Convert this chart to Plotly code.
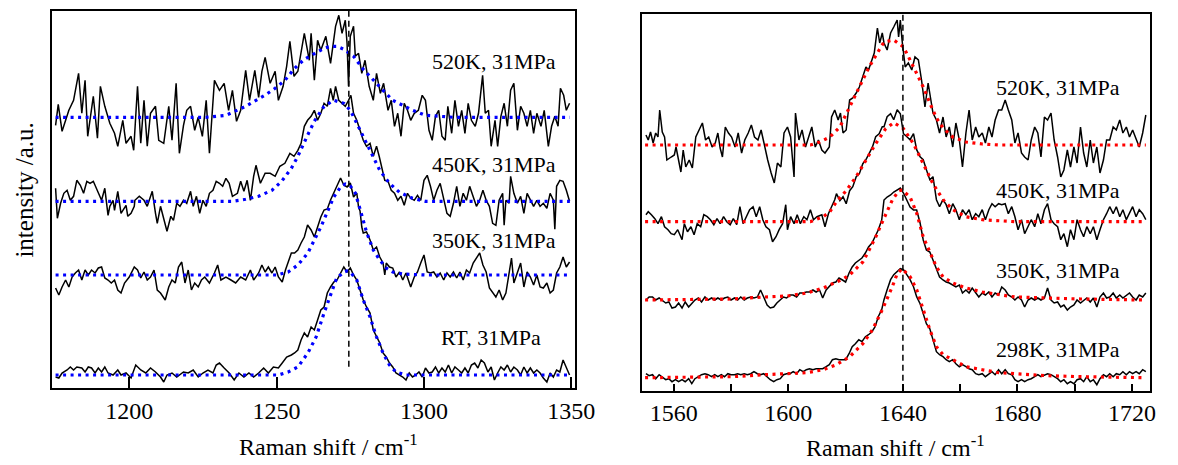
import plotly.graph_objects as go

# ---------------- LEFT PANEL (1174-1351 cm-1) ----------------
# measured spectra: (Raman shift, intensity above own baseline, a.u.)
L520 = [(1175.0,-8),(1175.9,13),(1177.2,-14),(1179.5,7),(1181.1,17),(1182.8,44),(1183.9,4),(1185.0,37),(1185.9,-19),(1187.8,21),
        (1189.2,-21),(1190.2,31),(1191.7,11),(1193.4,-6),(1195.0,-16),(1196.1,-29),(1197.8,-3),(1198.9,-26),(1200.6,-19),(1201.5,-33),
        (1202.8,31),(1203.9,-26),(1205.0,17),(1206.1,-29),(1207.2,4),(1208.9,11),(1210.0,-23),(1211.7,-26),(1213.4,11),(1214.5,-23),
        (1215.9,34),(1217.0,-36),(1218.4,-8),(1219.5,7),(1220.8,11),(1222.2,-13),(1223.4,0),(1224.8,-19),(1226.1,17),(1227.2,-36),
        (1228.9,37),(1230.6,27),(1232.2,34),(1233.7,7),(1235.0,27),(1236.4,-4),(1237.8,7),(1239.5,47),(1240.8,17),(1242.6,47),
        (1243.9,20),(1245.0,46),(1246.1,60),(1247.8,34),(1249.5,46),(1250.6,17),(1252.2,31),(1253.4,51),(1254.5,76),(1255.9,41),
        (1257.2,46),(1259.4,84),(1261.1,57),(1261.7,84),(1262.8,37),(1263.9,77),(1265.0,67),(1266.7,81),(1268.3,54),(1270.0,91),
        (1271.1,102),(1272.2,84),(1273.3,97),(1273.9,74),(1274.4,31),(1275.0,81),(1276.1,91),(1276.7,61),(1277.8,64),(1278.9,44),
        (1280.0,57),(1281.4,31),(1282.8,17),(1283.9,44),(1285.2,24),(1286.3,34),(1287.8,7),(1288.9,17),(1290.0,-9),(1291.1,4),
        (1292.2,-19),(1293.3,14),(1294.4,7),(1295.5,-3),(1296.7,4),(1298.1,7),(1299.4,22),(1300.5,17),(1301.7,-13),(1302.8,-23),
        (1303.9,1),(1305.0,7),(1306.1,-19),(1307.2,-23),(1308.1,11),(1309.4,-16),(1310.5,17),(1311.7,-9),(1312.8,7),(1313.9,-16),
        (1315.0,14),(1316.1,-3),(1317.4,-9),(1318.5,4),(1319.9,42),(1320.8,4),(1321.9,7),(1322.8,-29),(1324.1,-3),(1325.0,-29),
        (1326.1,1),(1327.2,14),(1328.3,-9),(1329.4,27),(1330.5,34),(1331.7,-13),(1332.8,11),(1333.9,4),(1335.0,-9),(1336.1,7),
        (1337.2,-16),(1338.3,4),(1339.7,-9),(1340.8,7),(1342.2,-29),(1343.3,-9),(1344.4,1),(1345.5,-9),(1346.3,29),(1347.4,22),
        (1348.3,7),(1349.4,14)]

L450 = [(1175.0,13),(1175.6,-17),(1176.7,-2),(1177.8,8),(1178.9,11),(1180.0,1),(1181.1,5),(1182.2,21),(1183.4,16),(1184.5,8),
        (1185.6,20),(1186.7,18),(1187.8,20),(1189.2,10),(1190.6,1),(1191.7,13),(1192.8,-14),(1193.4,-5),(1194.5,1),(1195.0,-9),
        (1196.1,10),(1197.2,-12),(1198.9,-4),(1199.5,-15),(1200.6,-12),(1201.7,-5),(1201.9,1),(1203.4,5),(1205.0,1),(1206.1,-5),
        (1207.8,10),(1208.9,-12),(1209.5,-22),(1210.6,-5),(1211.7,-19),(1212.8,-30),(1214.1,-15),(1215.0,-19),(1216.1,-2),(1217.2,-5),
        (1218.4,1),(1219.5,-2),(1220.8,10),(1221.7,-5),(1222.8,5),(1223.9,-12),(1225.0,1),(1226.1,-5),(1227.2,8),(1228.4,11),
        (1229.5,20),(1230.6,18),(1231.7,15),(1232.8,23),(1233.9,18),(1235.0,5),(1236.7,8),(1237.8,20),(1238.9,10),(1240.0,21),
        (1241.1,1),(1242.2,25),(1243.0,36),(1244.5,18),(1246.1,28),(1247.8,28),(1249.5,25),(1251.1,35),(1252.8,38),(1254.5,48),
        (1255.9,45),(1257.2,51),(1258.3,58),(1259.4,75),(1260.5,81),(1261.7,85),(1262.8,91),(1263.9,81),(1265.0,88),(1266.1,98),
        (1267.2,95),(1268.3,113),(1269.2,101),(1270.0,115),(1271.1,101),(1272.2,98),(1273.3,95),(1274.4,101),(1275.2,106),(1276.1,88),
        (1277.2,81),(1278.3,71),(1279.4,61),(1280.5,55),(1281.7,58),(1282.8,45),(1283.9,55),(1284.8,45),(1285.5,35),(1286.7,21),
        (1287.8,20),(1288.9,11),(1290.0,8),(1291.1,1),(1292.2,5),(1293.3,-4),(1294.4,8),(1295.5,3),(1296.7,1),(1297.8,6),
        (1298.9,1),(1300.0,21),(1301.1,26),(1302.2,15),(1303.3,1),(1304.4,11),(1305.5,18),(1306.7,1),(1307.8,-12),(1308.9,-15),
        (1310.0,-2),(1311.1,15),(1312.2,-5),(1313.3,8),(1314.4,1),(1315.5,15),(1316.7,5),(1317.8,-5),(1318.9,1),(1320.0,11),
        (1321.1,1),(1322.2,-5),(1323.3,-22),(1324.4,-24),(1325.5,1),(1326.7,8),(1327.2,-24),(1327.8,1),(1328.9,-2),(1329.4,25),
        (1330.5,8),(1331.7,-2),(1332.8,5),(1333.9,-12),(1335.0,8),(1336.1,1),(1337.2,-5),(1338.3,1),(1339.4,-5),(1340.5,-2),
        (1341.7,-7),(1342.8,8),(1343.9,1),(1344.4,-28),(1345.0,15),(1346.1,21),(1347.2,20),(1348.3,11),(1349.4,0)]

L350 = [(1175.0,-13),(1176.1,-20),(1177.2,-12),(1178.4,-5),(1179.5,-12),(1180.6,-2),(1181.7,2),(1182.8,5),(1183.9,-5),(1185.0,5),
        (1186.1,0),(1187.2,5),(1188.4,2),(1189.5,7),(1190.6,8),(1191.7,-3),(1192.8,-5),(1193.9,-8),(1195.0,-5),(1196.1,-15),
        (1197.2,-18),(1198.4,-8),(1200.0,-2),(1201.7,8),(1202.8,5),(1203.9,-3),(1205.0,3),(1206.1,-5),(1207.2,-2),(1208.4,5),
        (1209.5,-15),(1210.6,-18),(1212.2,-25),(1213.4,-12),(1214.5,-5),(1215.6,-8),(1216.7,8),(1217.8,13),(1218.9,-8),(1220.0,5),
        (1221.1,-15),(1222.2,-8),(1223.4,-12),(1224.5,-5),(1225.6,-2),(1227.2,-8),(1228.9,2),(1230.0,10),(1231.1,-5),(1232.8,-2),
        (1234.5,-5),(1236.1,-8),(1237.8,-2),(1239.5,-5),(1241.1,5),(1242.2,-5),(1243.9,2),(1245.0,10),(1246.1,3),(1247.2,8),
        (1248.4,2),(1249.5,8),(1250.6,-2),(1251.9,-7),(1253.0,5),(1253.9,12),(1255.0,22),(1256.1,22),(1257.2,25),(1258.3,32),
        (1259.4,38),(1260.5,50),(1261.7,45),(1262.8,38),(1263.9,48),(1265.0,58),(1266.1,65),(1267.2,66),(1268.3,75),(1269.4,82),
        (1270.5,88),(1271.7,97),(1272.8,90),(1273.9,88),(1275.0,92),(1276.1,78),(1277.2,82),(1277.8,68),(1278.3,64),(1278.9,48),
        (1279.4,42),(1280.5,43),(1281.7,35),(1282.8,25),(1283.9,28),(1285.0,18),(1286.1,12),(1286.7,0),(1287.2,12),(1288.3,8),
        (1289.4,7),(1290.5,-2),(1291.7,3),(1292.8,-5),(1293.9,2),(1295.5,-12),(1296.7,-2),(1297.8,3),(1298.9,12),(1300.0,20),
        (1301.1,3),(1302.2,2),(1303.3,3),(1304.4,-2),(1305.5,2),(1306.7,-5),(1307.8,2),(1308.9,-2),(1310.0,3),(1311.1,-3),
        (1312.2,3),(1313.3,-5),(1314.4,5),(1315.5,2),(1316.7,12),(1317.8,17),(1318.9,22),(1320.0,10),(1321.1,3),(1322.2,-13),
        (1323.3,-18),(1324.4,-22),(1325.5,-15),(1326.7,-25),(1327.8,-18),(1328.9,5),(1329.7,17),(1330.5,-8),(1331.7,2),(1332.8,12),
        (1333.9,-12),(1335.0,3),(1336.1,-2),(1337.2,-10),(1338.3,0),(1339.4,-12),(1340.5,-13),(1341.7,-8),(1342.8,-18),(1343.9,-15),
        (1345.0,2),(1346.1,8),(1347.2,18),(1348.3,8),(1349.4,13)]

LRT = [(1175.0,-2),(1176.1,-3),(1177.2,2),(1178.9,5),(1180.0,8),(1181.1,5),(1182.2,8),(1183.9,7),(1185.0,3),(1186.1,8),
       (1187.2,7),(1188.4,2),(1189.5,7),(1190.6,3),(1191.7,8),(1192.8,2),(1194.5,0),(1196.1,5),(1197.2,0),(1198.9,2),
       (1200.6,-3),(1202.2,10),(1203.9,5),(1205.6,2),(1207.2,7),(1208.9,3),(1210.6,-2),(1211.7,-7),(1212.8,0),(1214.5,2),
       (1216.1,-2),(1218.4,3),(1220.0,2),(1221.7,5),(1223.4,-2),(1225.0,2),(1226.7,5),(1228.4,2),(1229.5,10),(1230.6,12),
       (1232.2,7),(1233.9,2),(1235.6,-5),(1237.2,2),(1238.9,-2),(1240.6,2),(1242.2,-2),(1243.9,2),(1245.6,7),(1247.2,2),
       (1248.9,8),(1250.6,7),(1251.9,12),(1253.4,18),(1255.0,20),(1256.1,22),(1257.2,25),(1258.3,35),(1259.4,42),(1260.5,38),
       (1261.7,48),(1262.8,45),(1263.9,55),(1265.0,65),(1266.1,68),(1267.2,82),(1268.3,88),(1269.4,93),(1270.5,95),(1271.7,102),
       (1272.8,108),(1273.9,103),(1275.0,107),(1276.1,100),(1277.2,95),(1278.3,85),(1279.4,75),(1280.5,68),(1281.7,62),(1282.8,45),
       (1283.9,38),(1285.0,32),(1286.1,22),(1287.2,18),(1288.3,12),(1289.4,8),(1290.5,2),(1291.7,0),(1292.8,-2),(1293.9,-5),
       (1295.0,2),(1296.1,-2),(1297.2,0),(1298.3,3),(1299.4,-2),(1300.5,7),(1301.7,2),(1302.8,3),(1303.9,8),(1305.0,2),
       (1306.1,7),(1307.2,3),(1308.3,10),(1309.4,2),(1310.5,8),(1311.7,5),(1312.8,2),(1313.9,7),(1315.0,2),(1316.1,10),
       (1317.2,12),(1318.3,7),(1319.4,15),(1320.5,12),(1321.7,3),(1322.8,8),(1323.9,-5),(1325.0,2),(1326.1,8),(1327.2,5),
       (1328.3,10),(1329.4,3),(1330.5,8),(1331.7,5),(1332.8,0),(1333.9,8),(1335.0,2),(1336.1,7),(1337.2,2),(1338.3,5),
       (1339.4,2),(1340.5,-3),(1341.7,-7),(1342.8,2),(1343.9,-2),(1345.0,5),(1346.1,3),(1347.2,15),(1348.3,8),(1349.4,0)]

# fitted profiles (left panel)
F520L = [(1175.0,0),(1226.0,0),(1232.8,2),(1236.0,6),(1239.5,11),(1243.0,17),(1246.0,22),(1249.5,29),(1252.8,37),(1256.1,49),
         (1259.4,58),(1263.0,64),(1266.1,69),(1268.3,71),(1270.5,71),(1272.8,68),(1276.1,61),(1279.4,48),(1282.8,37),(1286.1,27),
         (1289.4,17),(1292.8,12),(1296.1,7),(1300.5,2),(1305.0,1),(1310.0,0),(1349.5,0)]
F450L = [(1175.0,0),(1235.0,0),(1239.5,2),(1243.9,5),(1248.4,11),(1251.7,20),(1255.0,33),(1257.2,45),(1260.5,66),(1262.8,80),
         (1266.1,95),(1269.4,101),(1272.8,98),(1275.0,91),(1277.2,78),(1279.4,65),(1281.7,51),(1285.0,31),(1288.3,18),(1291.7,9),
         (1296.1,3),(1300.5,0),(1349.5,0)]
F350L = [(1175.0,0),(1250.0,0),(1253.9,3),(1257.2,10),(1260.6,22),(1262.8,35),(1265.0,48),(1267.2,63),(1269.4,78),(1271.7,88),
         (1273.3,91),(1275.0,89),(1276.7,82),(1278.3,66),(1280.5,43),(1282.8,25),(1285.0,15),(1287.2,7),(1289.4,3),(1292.8,1),
         (1300.5,0),(1349.5,0)]
FRTL = [(1175.0,0),(1250.6,0),(1253.9,3),(1257.2,8),(1260.6,22),(1263.4,38),(1266.1,62),(1268.9,85),(1270.5,98),(1271.7,100),
        (1272.8,103),(1273.9,104),(1275.0,103),(1277.2,95),(1279.4,75),(1281.7,58),(1283.9,38),(1286.1,22),(1288.3,10),(1290.5,3),
        (1293.9,0),(1349.5,0)]

left_offsets = [270.4, 186.4, 112.7, 12.7]          # 520K, 450K, 350K, RT
left_labels = ["520K, 31MPa", "450K, 31MPa", "350K, 31MPa", "RT, 31MPa"]
left_ticks = [1200, 1250, 1300, 1350]
left_ref = 1274.5

# ---------------- RIGHT PANEL (1549-1726 cm-1) ----------------
R_GRID_A = [1550.3,1551.4,1552.6,1553.7,1554.9,1556.0,1557.2,1558.3,1559.4,1560.6,1561.7,1562.9,1564.0,1565.2,1566.3,1567.4,
            1568.6,1569.7,1570.9,1572.0,1573.2,1574.3,1575.4,1576.6,1577.7,1578.9,1580.0,1581.2,1582.3,1583.4,1584.6,1585.7,
            1586.9,1588.0,1589.2,1590.3,1591.4,1592.6,1593.7,1594.9,1596.0,1597.2,1598.3,1599.4,1600.6,1601.7,1602.9,1604.0,
            1605.2,1606.3,1607.4,1608.6,1609.7,1610.9,1612.0,1613.2,1614.3,1615.4,1616.6,1617.7,1618.9,1620.0,1621.2,1622.3,
            1623.4,1624.6,1625.7,1626.9,1628.0,1629.2,1630.3,1631.4,1632.6]
R_GRID_B = [1633.4,1634.5,1635.7,1636.8,1638.0,1639.1,1640.2,1641.4,1642.5,1643.7,1644.8,1646.0,1647.1,1648.2,1649.4,1650.5,
            1651.7,1652.8,1654.0,1655.1,1656.2,1657.4,1658.5,1659.7,1660.8,1662.0,1663.1,1664.2,1665.4,1666.5,1667.7,1668.8,
            1670.0,1671.1,1672.2,1673.4,1674.5,1675.7,1676.8,1678.0,1679.1,1680.2,1681.4,1682.5,1683.7,1684.8,1686.0,1687.1,
            1688.2,1689.4,1690.5,1691.7,1692.8,1694.0,1695.1,1696.2,1697.4,1698.5,1699.7,1700.8,1702.0,1703.1,1704.2,1705.4,
            1706.5,1707.7,1708.8,1710.0,1711.1,1712.2,1713.4,1714.5,1715.7,1716.8,1718.0,1719.1,1720.2,1721.4,1722.5,1723.7,1724.8]

R298_A = [4,2,3,-1,3,1,-2,-1,-4,-2,-4,-2,-4,-1,-6,-1,1,3,4,3,1,3,1,3,1,4,3,3,4,3,4,3,4,6,4,3,4,1,-2,-4,-2,-1,3,4,4,6,4,8,6,8,
          9,8,9,9,9,11,13,18,19,18,18,18,24,31,34,38,36,41,43,46,51,61,68]
R298_B = [78,88,98,103,106,109,108,103,98,91,81,74,64,54,49,38,26,23,21,18,16,18,14,11,13,11,9,8,4,3,4,1,4,6,3,8,4,8,4,3,
          -2,-4,-2,-4,-2,-1,1,3,1,3,4,3,1,-1,-4,-2,-6,-4,-6,-2,-1,-4,1,-4,-2,-7,-1,3,1,4,1,4,3,6,3,6,4,6,4,8,6]
R350_A = [0,3,3,0,2,0,-3,-2,-8,-7,-3,-8,-2,-7,-3,0,2,-2,3,0,2,0,2,0,2,3,0,2,0,3,0,2,3,2,3,10,3,-5,-8,-7,-3,0,3,2,5,5,3,7,7,8,
          8,10,8,10,2,10,13,17,18,22,20,18,27,33,37,40,42,47,53,57,63,70,80]
R350_B = [100,103,105,108,110,112,107,100,93,90,90,77,60,50,48,40,30,23,20,18,17,15,13,15,7,10,7,12,7,3,7,5,8,3,7,5,13,10,5,3,
          0,3,0,-7,0,2,0,2,0,2,12,0,-3,-2,-7,-5,-10,-7,-5,0,-3,0,2,-2,2,-7,3,7,2,3,7,2,5,2,5,7,3,0,5,3,7]

R450 = [(1550.3,7),(1551.1,10),(1552.2,7),(1553.4,3),(1554.5,-2),(1555.7,5),(1556.8,-5),(1558.0,-8),(1559.1,-12),(1560.2,-13),
        (1561.4,-8),(1562.9,-18),(1563.7,-2),(1564.8,-10),(1566.0,-5),(1567.1,-13),(1568.2,-2),(1569.4,-5),(1570.5,7),(1571.7,5),
        (1572.8,2),(1574.0,-3),(1575.1,3),(1576.2,-2),(1577.4,5),(1578.5,0),(1579.7,-3),(1580.8,3),(1582.0,-3),(1583.1,15),
        (1584.2,-2),(1585.4,5),(1586.5,12),(1587.7,15),(1588.8,5),(1590.0,15),(1591.1,2),(1592.2,-5),(1593.4,-8),(1594.5,-20),
        (1595.7,-15),(1596.8,-8),(1598.0,-2),(1599.1,17),(1599.7,-8),(1600.8,5),(1602.0,-2),(1603.1,7),(1604.2,-2),(1605.4,5),
        (1606.5,2),(1607.7,12),(1608.8,2),(1610.0,5),(1611.7,7),(1612.8,-5),(1614.0,8),(1615.1,15),(1616.2,22),(1616.8,28),
        (1618.0,21),(1619.1,25),(1620.2,18),(1621.4,31),(1622.5,35),(1623.7,45),(1624.8,48),(1626.0,58),(1627.1,62),(1628.2,68),
        (1629.4,75),(1630.5,85),(1631.7,88),(1632.8,95),(1633.4,95),(1634.5,105),(1635.7,108),(1636.8,102),(1638.0,112),(1639.1,108),
        (1639.7,98),(1640.2,88),(1641.4,85),(1642.5,82),(1643.7,88),(1644.8,72),(1646.0,65),(1647.1,62),(1648.2,52),(1649.4,42),
        (1650.5,45),(1651.7,22),(1652.8,15),(1654.0,22),(1655.1,17),(1656.2,8),(1657.4,18),(1658.5,12),(1659.7,2),(1660.8,12),
        (1662.0,7),(1663.1,12),(1664.2,2),(1665.4,8),(1666.5,5),(1667.7,12),(1668.8,2),(1670.0,12),(1671.1,18),(1672.2,15),
        (1673.4,18),(1674.5,17),(1675.7,18),(1676.8,8),(1678.0,15),(1679.1,5),(1680.2,-8),(1681.4,2),(1682.5,-12),(1683.7,-5),
        (1684.8,2),(1686.0,-5),(1687.1,8),(1688.2,-2),(1689.4,12),(1690.5,18),(1691.7,2),(1692.8,-2),(1694.0,-5),(1695.1,-18),
        (1696.2,-12),(1697.4,-25),(1698.5,-8),(1699.7,-18),(1700.8,2),(1702.0,-8),(1703.1,-15),(1704.2,-5),(1705.4,-12),(1706.5,-5),
        (1707.7,-18),(1708.8,-8),(1710.0,2),(1711.1,8),(1712.2,15),(1713.4,8),(1714.5,15),(1715.7,5),(1716.8,12),(1718.0,2),
        (1719.1,8),(1720.2,15),(1721.4,5),(1722.5,12),(1723.7,8),(1724.8,2)]

R520 = [(1550.3,10),(1551.1,5),(1551.9,13),(1552.8,2),(1553.7,12),(1554.5,8),(1555.1,35),(1556.0,13),(1556.8,8),(1557.6,-15),
        (1559.1,-12),(1560.2,-10),(1560.8,-2),(1561.7,-15),(1562.5,-27),(1563.3,-5),(1564.2,-22),(1565.4,-15),(1566.5,-23),(1567.7,8),
        (1568.8,15),(1570.0,22),(1571.1,5),(1572.2,8),(1573.4,-2),(1574.5,2),(1575.4,12),(1576.2,-3),(1577.0,-12),(1578.0,18),
        (1579.1,12),(1580.2,8),(1581.4,-2),(1582.5,12),(1583.7,-8),(1584.8,5),(1586.0,12),(1587.1,20),(1588.2,8),(1589.4,5),
        (1590.5,15),(1591.7,-2),(1592.8,-15),(1594.0,-28),(1595.1,-38),(1596.2,-18),(1597.4,-22),(1598.5,12),(1599.7,18),(1600.8,8),
        (1602.0,-32),(1602.5,32),(1603.7,5),(1604.8,15),(1606.0,-2),(1607.1,8),(1608.2,18),(1609.4,-2),(1610.5,5),(1611.7,-5),
        (1612.8,-8),(1614.3,-2),(1615.1,28),(1616.2,35),(1617.4,25),(1618.2,32),(1619.1,12),(1620.2,15),(1621.4,45),(1622.5,47),
        (1623.7,52),(1624.8,58),(1626.0,68),(1627.1,78),(1628.0,75),(1628.8,82),(1630.0,92),(1631.1,117),(1631.9,102),(1632.8,112),
        (1633.4,102),(1634.5,95),(1635.7,112),(1636.8,118),(1638.0,125),(1638.5,108),(1639.1,125),(1639.7,105),(1640.2,92),(1640.8,78),
        (1641.9,82),(1643.1,75),(1644.2,88),(1645.4,85),(1646.5,65),(1647.7,38),(1648.8,62),(1649.9,45),(1650.5,32),(1651.7,25),
        (1652.8,12),(1654.0,28),(1655.1,8),(1656.2,18),(1657.4,-2),(1658.5,22),(1659.7,5),(1660.8,-22),(1662.0,12),(1663.1,35),
        (1664.2,5),(1665.4,18),(1666.5,8),(1667.7,12),(1668.8,2),(1670.0,18),(1671.1,8),(1672.2,25),(1673.4,35),(1674.5,35),
        (1675.7,45),(1676.8,35),(1678.0,25),(1679.1,2),(1680.2,12),(1681.4,-8),(1682.5,-12),(1683.7,-15),(1684.8,5),(1686.0,18),
        (1687.1,12),(1688.2,-12),(1689.4,28),(1690.5,25),(1691.7,32),(1692.8,5),(1694.0,-12),(1695.1,-32),(1696.2,-25),(1697.4,-5),
        (1698.5,-22),(1699.7,-2),(1700.8,-18),(1702.0,18),(1703.1,-8),(1704.2,-22),(1705.4,5),(1706.5,-18),(1707.7,-2),(1708.8,-28),
        (1710.0,-15),(1711.1,5),(1712.2,5),(1713.4,18),(1714.5,15),(1715.7,25),(1716.8,12),(1718.0,18),(1719.1,8),(1720.2,15),
        (1721.4,5),(1722.5,-2),(1723.7,12),(1724.8,30)]

# fitted profiles (right panel)
F520R = [(1550.0,0),(1607.7,0),(1611.0,3),(1614.5,8),(1618.0,18),(1621.4,38),(1624.8,58),(1628.2,78),(1631.7,95),(1633.4,103),
         (1636.8,105),(1640.2,98),(1642.5,85),(1644.8,72),(1647.1,58),(1649.4,42),(1651.7,27),(1654.0,17),(1657.4,8),(1662.0,3),
         (1667.7,1),(1673.4,0),(1724.8,0)]
F450R = [(1550.0,0),(1607.7,0),(1612.2,5),(1614.5,10),(1616.8,20),(1620.2,31),(1623.7,45),(1627.1,62),(1630.5,78),(1634.0,93),
         (1636.8,99),(1640.2,93),(1643.7,78),(1647.1,58),(1650.5,38),(1654.0,22),(1657.4,12),(1662.0,5),(1667.7,2),(1679.0,0),
         (1724.8,0)]
F350R = [(1550.0,0),(1580.2,1),(1591.7,3),(1599.7,4),(1606.5,7),(1612.2,12),(1614.5,15),(1616.8,18),(1619.1,21),(1621.4,25),
         (1623.7,32),(1626.0,38),(1628.2,50),(1630.5,63),(1632.8,78),(1636.3,100),(1638.5,109),(1639.7,110),(1642.5,103),(1644.8,87),
         (1647.1,63),(1649.4,47),(1651.7,33),(1654.0,23),(1657.4,17),(1662.0,12),(1667.7,8),(1679.1,3),(1690.5,2),(1702.0,1),(1724.8,0)]
F298R = [(1550.0,0),(1580.2,1),(1591.7,3),(1599.7,4),(1606.5,5),(1612.2,8),(1616.8,13),(1621.4,21),(1626.0,34),(1629.4,48),
         (1632.8,68),(1636.3,91),(1638.0,104),(1639.7,109),(1642.5,101),(1644.8,88),(1647.1,68),(1649.4,48),(1651.7,31),(1654.0,23),
         (1657.4,18),(1662.0,11),(1667.7,8),(1673.4,5),(1679.1,4),(1690.5,2),(1702.0,1),(1724.8,0)]

right_offsets = [245.7, 169.0, 90.7, 13.0]          # 520K, 450K, 350K, 298K
right_labels = ["520K, 31MPa", "450K, 31MPa", "350K, 31MPa", "298K, 31MPa"]
right_major = [1560, 1600, 1640, 1680, 1720]
right_minor = [1580, 1620, 1660, 1700]
right_ref = 1640

# ---------------- FIGURE ----------------
W, H = 1178, 465
FONT = "Liberation Serif, Times New Roman, DejaVu Serif, serif"
fig = go.Figure()


def add_curve(pairs, offset, xa, ya, color, width, dash=None):
    fig.add_trace(go.Scatter(
        x=[p[0] for p in pairs], y=[offset + p[1] for p in pairs], mode="lines",
        line=dict(color=color, width=width, dash=dash),
        xaxis=xa, yaxis=ya, showlegend=False, hoverinfo="skip"))


left_spec = [L520, L450, L350, LRT]
left_fit = [F520L, F450L, F350L, FRTL]
right_spec = [R520, R450,
              list(zip(R_GRID_A + R_GRID_B, R350_A + R350_B)),
              list(zip(R_GRID_A + R_GRID_B, R298_A + R298_B))]
right_fit = [F520R, F450R, F350R, F298R]

for s, off in zip(left_spec, left_offsets):
    add_curve(s, off, "x", "y", "black", 1.5)
for f, off in zip(left_fit, left_offsets):
    add_curve(f, off, "x", "y", "#0000FF", 3.2, "3px,4.5px")
for s, off in zip(right_spec, right_offsets):
    add_curve(s, off, "x2", "y2", "black", 1.5)
for f, off in zip(right_fit, right_offsets):
    add_curve(f, off, "x2", "y2", "#FF0000", 3.2, "3px,4.5px")

axis_common = dict(showgrid=False, zeroline=False, showline=True, mirror=True, linecolor="black")

fig.update_layout(
    width=W, height=H, autosize=False,
    margin=dict(l=0, r=0, t=0, b=0),
    paper_bgcolor="white", plot_bgcolor="white",
    font=dict(family=FONT, color="black"),
    xaxis=dict(domain=[52.7 / W, 585 / W], range=[1173.7, 1351.1], anchor="y",
               tickvals=left_ticks, ticktext=[str(t) for t in left_ticks],
               ticks="inside", ticklen=11, tickwidth=1.5, tickcolor="black",
               tickfont=dict(family=FONT, size=24, color="black"), linewidth=2, **axis_common),
    yaxis=dict(domain=[(H - 387.7) / H, (H - 11) / H], range=[0, 376.7], anchor="x",
               showticklabels=False, ticks="", linewidth=2, **axis_common),
    xaxis2=dict(domain=[653.3 / W, 1170.7 / W], range=[1548.8, 1726.2], anchor="y2",
                tickvals=right_major, ticktext=[str(t) for t in right_major],
                ticks="inside", ticklen=7, tickwidth=1.5, tickcolor="black",
                minor=dict(tickvals=right_minor, ticks="inside", ticklen=7, tickwidth=1.5, tickcolor="black"),
                tickfont=dict(family=FONT, size=24, color="black"), linewidth=1.5, **axis_common),
    yaxis2=dict(domain=[(H - 390.7) / H, (H - 14.3) / H], range=[0, 376.4], anchor="x2",
                showticklabels=False, ticks="", linewidth=1.5, **axis_common),
)

# reference peak positions (dashed)
fig.add_shape(type="line", xref="x", yref="y", x0=left_ref, x1=left_ref, y0=21, y1=376.7,
              line=dict(color="black", width=1.5, dash="6px,4px"))
fig.add_shape(type="line", xref="x2", yref="y2", x0=right_ref, x1=right_ref, y0=0, y1=376.4,
              line=dict(color="black", width=1.5, dash="6px,4px"))


def px_annot(text, px, py, size=22, angle=0):
    fig.add_annotation(text=text, xref="paper", yref="paper", x=px / W, y=1 - py / H,
                       xanchor="center", yanchor="middle", showarrow=False, textangle=angle,
                       font=dict(family=FONT, size=size, color="black"))


for lab, py in zip(left_labels, [62, 164, 240, 337]):
    px_annot(lab, 503 if not lab.startswith("RT") else 500, py)
for lab, py in zip(right_labels, [88, 190, 270, 349]):
    px_annot(lab, 1077, py)

px_annot("Raman shift / cm<sup>-1</sup>", 334, 445, size=24)
px_annot("Raman shift / cm<sup>-1</sup>", 912, 446, size=24)
px_annot("intensity /a.u.", 24, 190, size=25, angle=-90)

fig.write_html("out.html", config={"displayModeBar": False},
               post_script="document.body.style.margin='0';document.body.style.overflow='hidden';")
